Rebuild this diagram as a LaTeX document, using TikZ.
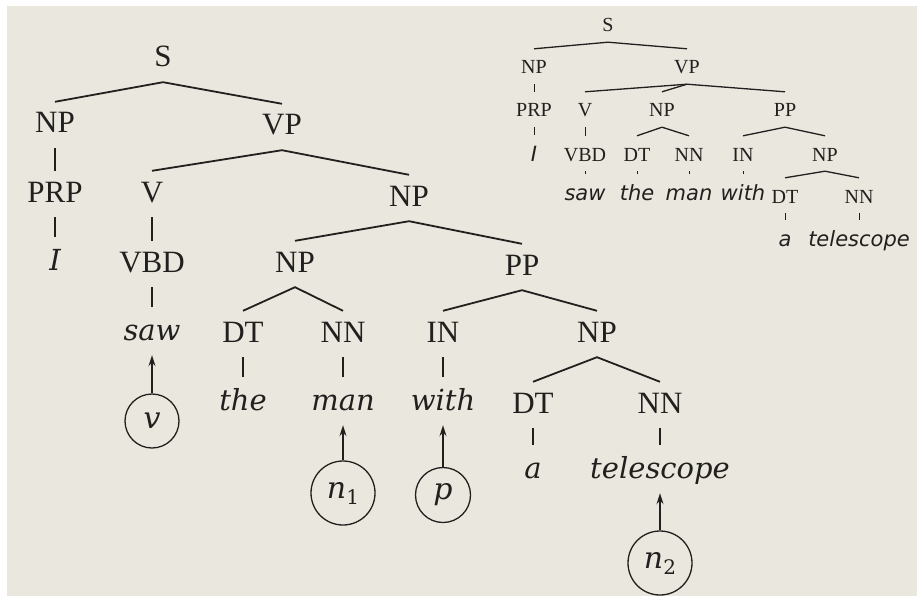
\documentclass[tikz,border=0pt]{standalone}
\usepackage{fontspec}
\setmainfont{Liberation Serif}
\newfontfamily\wordfont{DejaVu Serif}
\newfontfamily\smallwordfont{DejaVu Sans}[ItalicFont={* Oblique}]
\usetikzlibrary{arrows.meta}
\definecolor{paper}{RGB}{233,231,222}
\definecolor{ink}{RGB}{34,32,30}
\tikzset{
  lab/.style={font=\fontsize{31}{31}\selectfont, text=ink, inner sep=0pt,
              text height=31pt, text depth=15pt, anchor=base},
  wrd/.style={font=\wordfont\itshape\fontsize{29}{29}\selectfont, text=ink, inner sep=0pt,
              text height=33pt, text depth=15pt, anchor=base},
  slab/.style={font=\fontsize{20}{20}\selectfont, text=ink, inner sep=0pt,
               text height=25pt, text depth=10pt, anchor=base},
  swrd/.style={font=\smallwordfont\itshape\fontsize{21}{21}\selectfont, text=ink, inner sep=0pt,
               text height=26pt, text depth=10pt, anchor=base},
  var/.style={circle, draw=ink, line width=1.3pt, inner sep=0pt, text=ink,
              font=\wordfont\itshape\fontsize{30}{30}\selectfont},
  branch/.style={draw=ink, line width=1.8pt},
  tick/.style={draw=ink, line width=1.1pt},
  sbranch/.style={draw=ink, line width=1.3pt},
  stick/.style={draw=ink, line width=0.9pt},
  ptr/.style={draw=ink, line width=1.4pt, -{Stealth[length=11pt,width=7pt]}}
}
\newcommand{\subdigit}[1]{{\upshape\raisebox{-6pt}{\fontsize{20}{20}\selectfont #1}}}
\begin{document}
\begin{tikzpicture}[x=1pt,y=-1pt]
  \useasboundingbox (0,0) rectangle (917,596);
  \fill[white] (0,0) rectangle (917,596);
  \fill[paper] (7,6) rectangle (917,596);

  % ---------- large tree ----------
  \node[lab] (S)    at (163,67)  {S};
  \node[lab] (NPa)  at (55,133)  {NP};
  \node[lab] (VP)   at (282,135) {VP};
  \node[lab] (PRP)  at (55,202)  {PRP};
  \node[lab] (V)    at (152,202) {V};
  \node[lab] (NPb)  at (409,206) {NP};
  \node[wrd] (I)    at (55,270)  {I};
  \node[lab] (VBD)  at (152,272) {VBD};
  \node[lab] (NPc)  at (295,272) {NP};
  \node[lab] (PP)   at (522,275) {PP};
  \node[wrd] (saw)  at (152,340) {saw};
  \node[lab] (DTa)  at (243,342) {DT};
  \node[lab] (NNa)  at (343,342) {NN};
  \node[lab] (IN)   at (443,342) {IN};
  \node[lab] (NPd)  at (597,342) {NP};
  \node[wrd] (the)  at (243,410) {the};
  \node[wrd] (man)  at (343,410) {man};
  \node[wrd] (with) at (443,410) {with};
  \node[lab] (DTb)  at (533,413) {DT};
  \node[lab] (NNb)  at (660,413) {NN};
  \node[wrd] (a)    at (533,478) {a};
  \node[wrd] (tel)  at (660,478) {telescope};

  \draw[branch] (NPa.north) -- (S.south) -- (VP.north);
  \draw[branch] (V.north) -- (VP.south) -- (NPb.north);
  \draw[branch] (NPc.north) -- (NPb.south) -- (PP.north);
  \draw[branch] (DTa.north) -- (NPc.south) -- (NNa.north);
  \draw[branch] (IN.north) -- (PP.south) -- (NPd.north);
  \draw[branch] (DTb.north) -- (NPd.south) -- (NNb.north);

  \draw[tick] (NPa.south) -- (PRP.north);
  \draw[tick] (PRP.south) -- (I.north);
  \draw[tick] (V.south) -- (VBD.north);
  \draw[tick] (VBD.south) -- (saw.north);
  \draw[tick] (DTa.south) -- (the.north);
  \draw[tick] (NNa.south) -- (man.north);
  \draw[tick] (IN.south) -- (with.north);
  \draw[tick] (DTb.south) -- (a.north);
  \draw[tick] (NNb.south) -- (tel.north);

  % variables pointing at the head words
  \node[var, minimum size=54pt] (cv)  at (152,421) {v};
  \node[var, minimum size=64pt] (cn1) at (343,493) {n\subdigit{1}};
  \node[var, minimum size=55pt] (cp)  at (443,495) {p};
  \node[var, minimum size=64pt] (cn2) at (660,563) {n\subdigit{2}};

  \draw[ptr] (cv.north)  -- (saw.south);
  \draw[ptr] (cn1.north) -- (man.south);
  \draw[ptr] (cp.north)  -- (with.south);
  \draw[ptr] (cn2.north) -- (tel.south);

  % ---------- small tree ----------
  \node[slab] (sS)    at (608,32)  {S};
  \node[slab] (sNPa)  at (534,74)  {NP};
  \node[slab] (sVP)   at (687,74)  {VP};
  \node[slab] (sPRP)  at (534,117) {PRP};
  \node[slab] (sV)    at (585,117) {V};
  \node[slab] (sNPb)  at (662,117) {NP};
  \node[slab] (sPP)   at (785,117) {PP};
  \node[swrd] (sI)    at (534,161) {I};
  \node[slab] (sVBD)  at (585,161) {VBD};
  \node[slab] (sDTa)  at (637,161) {DT};
  \node[slab] (sNNa)  at (689,161) {NN};
  \node[slab] (sIN)   at (743,161) {IN};
  \node[slab] (sNPc)  at (825,161) {NP};
  \node[swrd] (ssaw)  at (585,200) {saw};
  \node[swrd] (sthe)  at (637,200) {the};
  \node[swrd] (sman)  at (689,200) {man};
  \node[swrd] (swith) at (743,200) {with};
  \node[slab] (sDTb)  at (785,203) {DT};
  \node[slab] (sNNb)  at (859,203) {NN};
  \node[swrd] (sa)    at (785,246) {a};
  \node[swrd] (stel)  at (859,246) {telescope};

  \draw[sbranch] (sNPa.north) -- (sS.south) -- (sVP.north);
  \draw[sbranch] (sV.north) -- (sVP.south) -- (sPP.north);
  \draw[sbranch] (sVP.south) -- (sNPb.north);
  \draw[sbranch] (sDTa.north) -- (sNPb.south) -- (sNNa.north);
  \draw[sbranch] (sIN.north) -- (sPP.south) -- (sNPc.north);
  \draw[sbranch] (sDTb.north) -- (sNPc.south) -- (sNNb.north);

  \draw[stick] (sNPa.south) -- (sPRP.north);
  \draw[stick] (sPRP.south) -- (sI.north);
  \draw[stick] (sV.south) -- (sVBD.north);
  \draw[stick] (sVBD.south) -- (ssaw.north);
  \draw[stick] (sDTa.south) -- (sthe.north);
  \draw[stick] (sNNa.south) -- (sman.north);
  \draw[stick] (sIN.south) -- (swith.north);
  \draw[stick] (sDTb.south) -- (sa.north);
  \draw[stick] (sNNb.south) -- (stel.north);
\end{tikzpicture}
\end{document}
